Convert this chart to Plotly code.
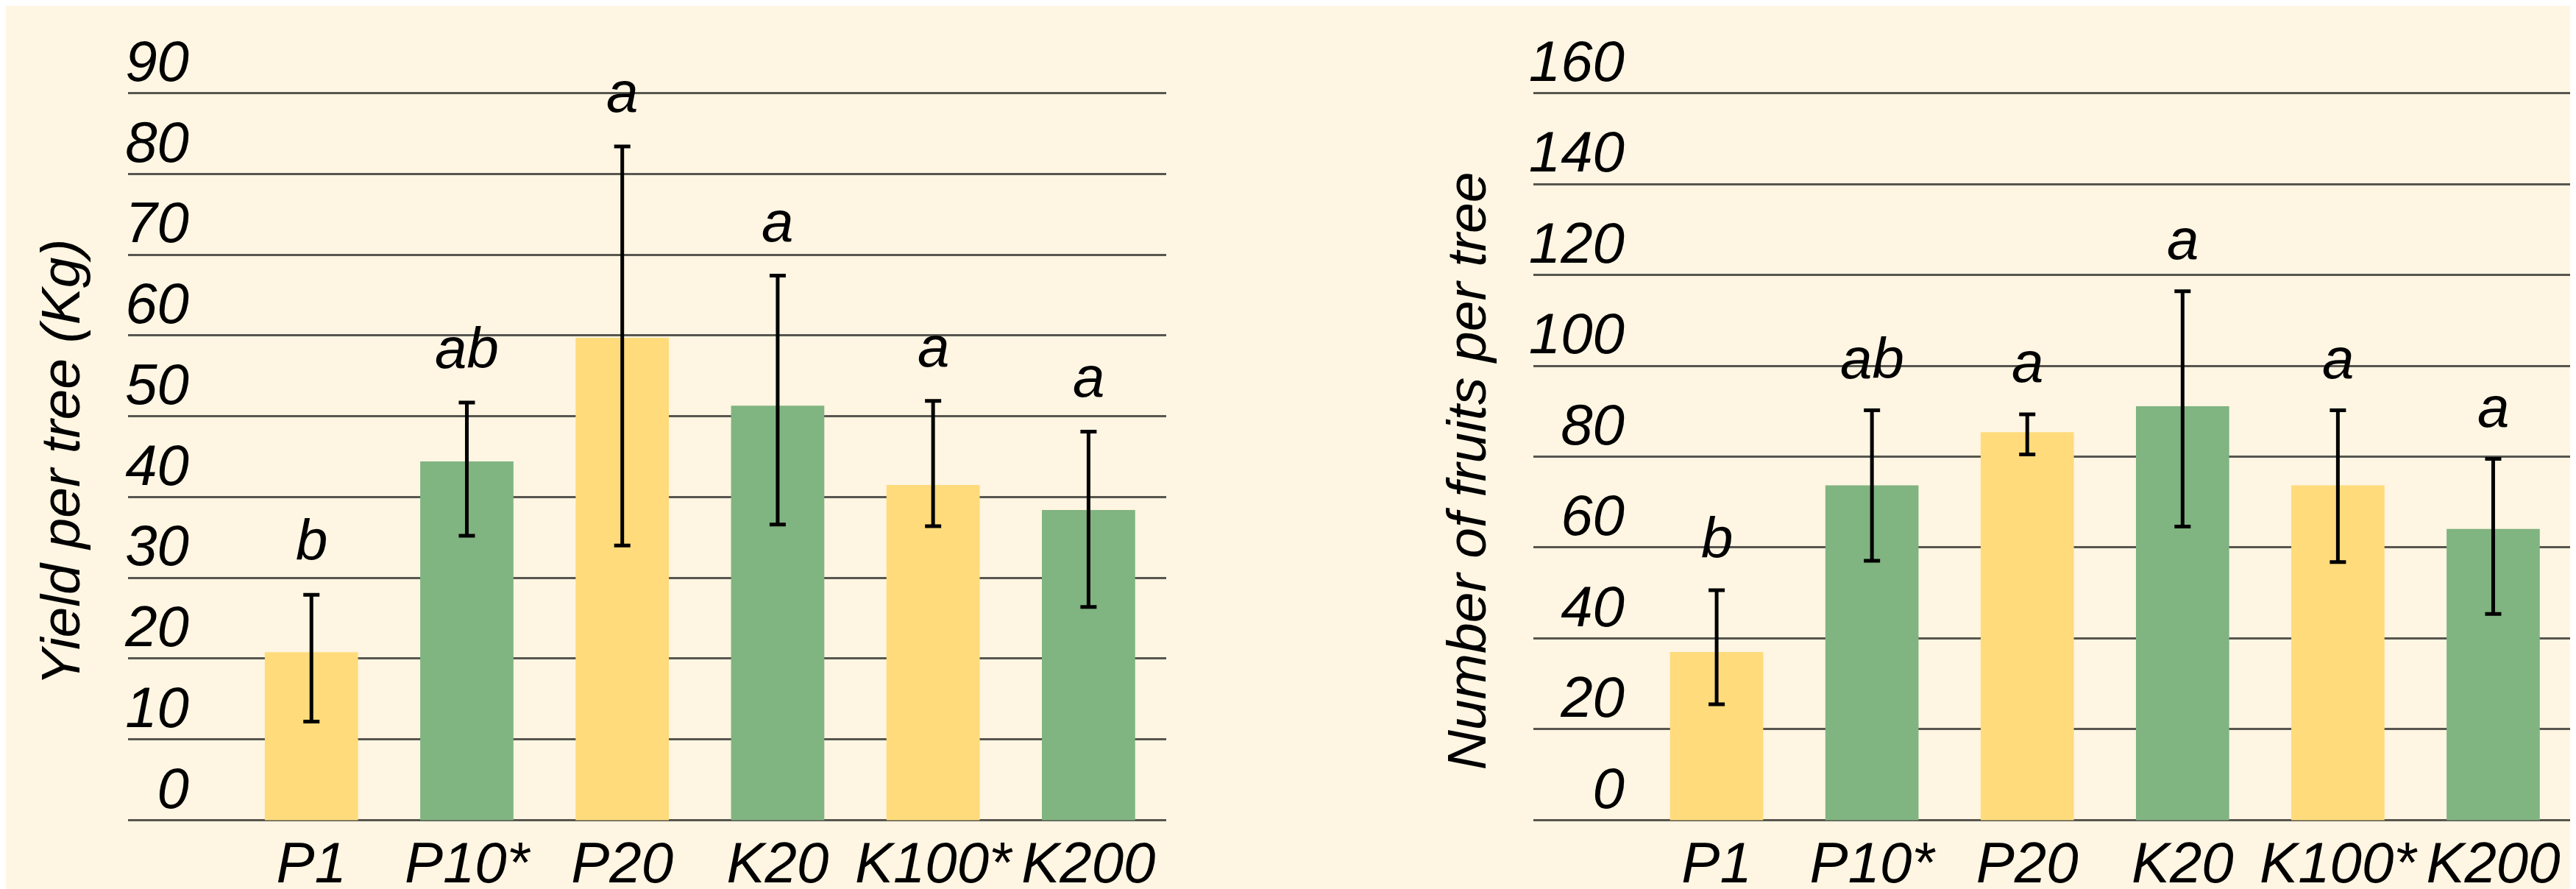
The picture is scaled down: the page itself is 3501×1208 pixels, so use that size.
import plotly.graph_objects as go

categories = ["P1", "P10*", "P20", "K20", "K100*", "K200"]
bar_colors = ["#FFDB7B", "#80B481", "#FFDB7B", "#80B481", "#FFDB7B", "#80B481"]

yield_mean = [20.8, 44.4, 59.7, 51.3, 41.5, 38.4]
yield_upper = [27.9, 51.7, 83.4, 67.4, 51.9, 48.1]
yield_lower = [12.2, 35.2, 34.0, 36.6, 36.4, 26.4]
yield_letters = ["b", "ab", "a", "a", "a", "a"]

fruits_mean = [37.0, 73.7, 85.4, 91.1, 73.7, 64.1]
fruits_upper = [50.6, 90.2, 89.3, 116.4, 90.2, 79.5]
fruits_lower = [25.5, 57.1, 80.5, 64.6, 56.8, 45.4]
fruits_letters = ["b", "ab", "a", "a", "a", "a"]

yield_ticks = [0, 10, 20, 30, 40, 50, 60, 70, 80, 90]
fruits_ticks = [0, 20, 40, 60, 80, 100, 120, 140, 160]

BG = "#FEF5E2"
GRID = "#57564F"
FONT = dict(family="Liberation Sans, Arial, sans-serif", size=78, color="black", style="italic")
TITLE_FONT = dict(family="Liberation Sans, Arial, sans-serif", size=75, color="black", style="italic")

W, H = 3501, 1208
fig = go.Figure()

def add_bars(mean, upper, lower, xa, ya):
    fig.add_trace(go.Bar(
        x=categories, y=mean, xaxis=xa, yaxis=ya, width=0.6,
        marker=dict(color=bar_colors, line=dict(width=0)),
        error_y=dict(type="data", symmetric=False,
                     array=[u - m for u, m in zip(upper, mean)],
                     arrayminus=[m - l for m, l in zip(mean, lower)],
                     color="black", thickness=5, width=11),
        showlegend=False, hoverinfo="skip"))

add_bars(yield_mean, yield_upper, yield_lower, "x", "y")
add_bars(fruits_mean, fruits_upper, fruits_lower, "x2", "y2")

annotations = []
for c, u, t in zip(categories, yield_upper, yield_letters):
    annotations.append(dict(x=c, y=u, xref="x", yref="y", text=t, showarrow=False,
                            yanchor="middle", yshift=74, font=FONT))
for c, u, t in zip(categories, fruits_upper, fruits_letters):
    annotations.append(dict(x=c, y=u, xref="x2", yref="y2", text=t, showarrow=False,
                            yanchor="middle", yshift=71, font=FONT))

annotations.append(dict(x=74 / W, y=1 - 614 / H, xref="paper", yref="paper",
                        text="Yield per tree (Kg)", textangle=-90, showarrow=False,
                        xanchor="center", yanchor="middle", font=TITLE_FONT))
annotations.append(dict(x=1985 / W, y=1 - 628 / H, xref="paper", yref="paper",
                        text="Number of fruits per tree", textangle=-90, showarrow=False,
                        xanchor="center", yanchor="middle", font=TITLE_FONT))

axis_common = dict(showline=False, zeroline=False, ticks="", tickfont=FONT)

fig.update_layout(
    width=W, height=H,
    paper_bgcolor=BG, plot_bgcolor=BG,
    margin=dict(l=0, r=0, t=113, b=83),
    annotations=annotations,
    xaxis=dict(domain=[166 / W, 1577 / W], range=[-1.18, 5.5], showgrid=False,
               anchor="y", **axis_common),
    yaxis=dict(domain=[0, 1], range=[-0.5, 90.5], tickvals=yield_ticks,
               ticktext=[str(v) for v in yield_ticks], showgrid=True,
               gridcolor=GRID, gridwidth=2.6, anchor="x",
               ticklabelstandoff=-84, ticklabelshift=-44, **axis_common),
    xaxis2=dict(domain=[2076 / W, 3486 / W], range=[-1.18, 5.5], showgrid=False,
                anchor="y2", **axis_common),
    yaxis2=dict(domain=[0, 1], range=[-0.9, 160.9], tickvals=fruits_ticks,
                ticktext=[str(v) for v in fruits_ticks], showgrid=True,
                gridcolor=GRID, gridwidth=2.6, anchor="x2",
                ticklabelstandoff=-125, ticklabelshift=-44, **axis_common),
)

fig.write_html("out.html")
